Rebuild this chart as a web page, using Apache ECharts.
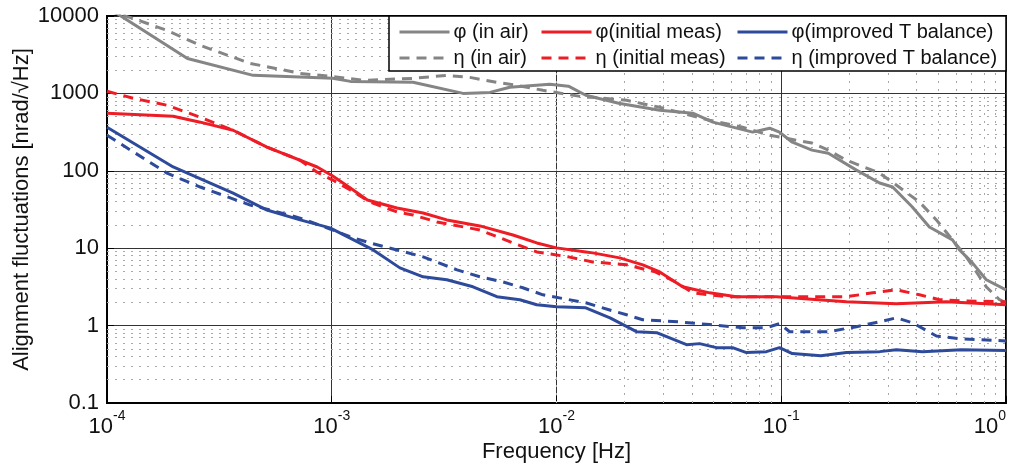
<!DOCTYPE html>
<html>
<head>
<meta charset="utf-8">
<script src="https://cdn.jsdelivr.net/npm/echarts@6/dist/echarts.min.js"></script>
<style>
html,body{margin:0;padding:0;background:#fff;}
#chart{width:1014px;height:467px;}
</style>
</head>
<body>
<div id="chart"></div>
<script>
// ---- data (frequency in Hz, amplitude in nrad/√Hz) ----
const phiAirFreq = [1e-4, 2.28e-4, 4.47e-4, 1.01e-3, 1.21e-3, 2.30e-3, 3.84e-3, 5.06e-3, 6.2e-3, 9.33e-3, 1.13e-2, 1.35e-2, 1.89e-2, 2.88e-2, 4.04e-2, 4.96e-2, 7.46e-2, 8.88e-2, 9.82e-2, 0.112, 0.137, 0.162, 0.216, 0.274, 0.313, 0.383, 0.456, 0.578, 0.621, 0.709, 0.817, 1];
const phiAirVal  = [13000, 2830, 1710, 1565, 1430, 1390, 1000, 1030, 1200, 1310, 1240, 946, 745, 606, 555, 425, 316, 355, 316, 234, 185, 169, 102, 69.5, 61.7, 34.0, 18.8, 12.8, 9.5, 6.46, 3.91, 2.90];

const etaAirFreq = [1e-4, 1.31e-4, 1.85e-4, 2.60e-4, 4.34e-4, 7.23e-4, 1.09e-3, 1.38e-3, 2.30e-3, 3.25e-3, 4.12e-3, 5.43e-3, 6.67e-3, 8.7e-3, 1.35e-2, 1.45e-2, 2.05e-2, 2.88e-2, 4.80e-2, 6.73e-2, 8.88e-2, 0.137, 0.162, 0.195, 0.274, 0.303, 0.412, 0.490, 0.578, 0.666, 0.817, 0.936, 1];
const etaAirVal  = [11800, 9290, 6500, 4170, 2440, 1815, 1610, 1475, 1565, 1710, 1610, 1390, 1270, 1096, 890, 890, 815, 662, 450, 366, 288, 228, 185, 137, 93.3, 75.9, 39.5, 23.2, 12.8, 7.73, 3.17, 2.16, 1.97];

const phiInitFreq = [1e-4, 1.97e-4, 2.60e-4, 3.64e-4, 5.15e-4, 8.61e-4, 1.01e-3, 1.21e-3, 1.44e-3, 1.95e-3, 2.55e-3, 3.25e-3, 4.56e-3, 6.4e-3, 8.17e-3, 1.0e-2, 1.35e-2, 1.45e-2, 1.91e-2, 2.42e-2, 2.88e-2, 3.64e-2, 4.80e-2, 6.32e-2, 9.53e-2, 0.195, 0.325, 0.543, 1];
const phiInitVal  = [555, 507, 425, 334, 202, 112, 85.5, 59.8, 41.9, 33.0, 28.5, 23.2, 19.4, 14.8, 11.7, 10.1, 8.95, 8.7, 7.5, 6.1, 4.94, 3.17, 2.65, 2.36, 2.36, 2.03, 1.91, 2.03, 1.86];

const etaInitFreq = [1e-4, 1.31e-4, 1.85e-4, 2.60e-4, 3.64e-4, 5.15e-4, 7.23e-4, 8.61e-4, 1.01e-3, 1.21e-3, 1.48e-3, 1.95e-3, 2.30e-3, 2.94e-3, 4.56e-3, 6.4e-3, 8.17e-3, 1.13e-2, 1.45e-2, 2.05e-2, 2.75e-2, 3.38e-2, 4.04e-2, 5.71e-2, 0.112, 0.195, 0.255, 0.325, 0.412, 0.506, 0.634, 1];
const etaInitVal  = [1065, 865, 703, 492, 334, 202, 137, 96, 75.9, 56.4, 39.5, 29.4, 26.9, 21.8, 17.2, 11.7, 8.95, 7.73, 6.65, 6.1, 4.94, 3.67, 2.65, 2.36, 2.36, 2.36, 2.65, 2.90, 2.50, 2.16, 2.09, 2.03];

const phiImpFreq = [1e-4, 1.97e-4, 3.64e-4, 5.15e-4, 7.23e-4, 9.82e-4, 1.53e-3, 2.01e-3, 2.55e-3, 3.25e-3, 4.25e-3, 5.43e-3, 6.87e-3, 8.17e-3, 1.0e-2, 1.35e-2, 1.73e-2, 2.27e-2, 2.79e-2, 3.79e-2, 4.33e-2, 5.15e-2, 6.07e-2, 7.0e-2, 8.59e-2, 9.82e-2, 0.112, 0.150, 0.195, 0.274, 0.325, 0.425, 0.634, 1];
const phiImpVal  = [366, 112, 51.6, 31.1, 23.2, 18.3, 9.5, 5.57, 4.27, 3.91, 3.17, 2.36, 2.16, 1.86, 1.75, 1.70, 1.26, 0.834, 0.81, 0.567, 0.585, 0.519, 0.519, 0.448, 0.461, 0.519, 0.435, 0.409, 0.448, 0.461, 0.489, 0.461, 0.489, 0.475];

const etaImpFreq = [1e-4, 1.85e-4, 2.60e-4, 4.34e-4, 5.15e-4, 7.23e-4, 1.01e-3, 1.21e-3, 1.48e-3, 1.95e-3, 2.55e-3, 3.61e-3, 4.56e-3, 5.77e-3, 7.08e-3, 8.7e-3, 1.35e-2, 1.71e-2, 2.05e-2, 2.42e-2, 3.47e-2, 4.80e-2, 6.73e-2, 8.59e-2, 9.82e-2, 0.109, 0.162, 0.216, 0.274, 0.325, 0.383, 0.490, 0.634, 1];
const etaImpVal  = [288, 93.3, 61.7, 36, 32, 24.5, 17.2, 14.0, 11.7, 9.5, 7.73, 5.25, 4.27, 3.67, 3.08, 2.50, 1.97, 1.60, 1.38, 1.19, 1.12, 1.03, 0.94, 0.94, 1.06, 0.834, 0.834, 0.968, 1.12, 1.26, 1.09, 0.734, 0.672, 0.634];

const seriesNames = ['φ (in air)', 'η (in air)', 'φ(initial meas)', 'η (initial meas)', 'φ(improved T balance)', 'η (improved T balance)'];
const xMajorExp = [-4, -3, -2, -1, 0];
const yTickLabels = ['0.1', '1', '10', '100', '1000', '10000'];
const minorMults = [2, 3, 4, 5, 6, 7, 8, 9];

// ---- build ----
const FONT = 'Liberation Sans, Arial, Helvetica, sans-serif';
const GRAY = '#858585', RED = '#ee1c25', BLUE = '#2e4b9b';

function pairs(f, v) { return f.map((x, i) => [x, v[i]]); }

const xMinor = [], yMinor = [];
for (let k = -4; k <= -1; k++) minorMults.forEach(m => xMinor.push(Number((m * Math.pow(10, k)).toPrecision(3))));
for (let k = -1; k <= 3; k++) minorMults.forEach(m => yMinor.push(Number((m * Math.pow(10, k)).toPrecision(3))));

function mkSeries(name, f, v, color, dashed) {
  return {
    name: name, type: 'line', data: pairs(f, v), symbol: 'none', showSymbol: false,
    smooth: false, z: 5, clip: true,
    lineStyle: { color: color, width: 3, type: dashed ? [10, 7] : 'solid', cap: 'butt', join: 'round' },
    itemStyle: { color: color },
    emphasis: { disabled: true }, animation: false
  };
}

const chart = echarts.init(document.getElementById('chart'), null, { renderer: 'canvas' });

const legendCommon = {
  orient: 'vertical', top: 22, padding: 0, itemWidth: 50, itemHeight: 14, itemGap: 6, z: 20,
  selectedMode: false,
  itemStyle: { opacity: 0 },
  lineStyle: { opacity: 1, width: 3 },
  textStyle: { fontSize: 20, lineHeight: 20, color: '#111', fontFamily: FONT, padding: [0, 0, 0, -1] }
};

const option = {
  animation: false,
  backgroundColor: '#fff',
  textStyle: { fontFamily: FONT },
  grid: { left: 107, right: 8, top: 16, bottom: 64, containLabel: false, outerBoundsMode: 'none',
          show: true, borderColor: '#000', borderWidth: 2, backgroundColor: '#fff' },
  legend: [
    Object.assign({}, legendCommon, { left: 398, data: [seriesNames[0], seriesNames[1]] }),
    Object.assign({}, legendCommon, { left: 540, data: [seriesNames[2], seriesNames[3]] }),
    Object.assign({}, legendCommon, { left: 736, data: [seriesNames[4], seriesNames[5]] })
  ],
  graphic: { elements: [{
    type: 'rect', z: 15, silent: true,
    shape: { x: 389, y: 16, width: 617, height: 55 },
    style: { fill: '#fff', stroke: '#000', lineWidth: 1.5 }
  }] },
  xAxis: {
    type: 'log', logBase: 10, min: 1e-4, max: 1, splitNumber: 4,
    name: 'Frequency [Hz]', nameLocation: 'middle', nameGap: 38, nameMoveOverlap: false,
    nameTextStyle: { fontSize: 22, color: '#111', fontFamily: FONT },
    axisLine: { show: true, onZero: false, lineStyle: { color: '#000', width: 2 } },
    axisTick: { show: true, inside: true, length: 7, lineStyle: { color: '#000', width: 1 } },
    axisLabel: {
      margin: 6, color: '#111', fontFamily: FONT, alignMaxLabel: 'right',
      formatter: function (v) {
        const e = Math.round(Math.log10(v));
        if (xMajorExp.indexOf(e) < 0) return '';
        return '{b|10}{s|' + e + '}';
      },
      rich: {
        b: { fontSize: 22, fontFamily: FONT, color: '#111', verticalAlign: 'bottom', padding: [7, 0, 0, 0] },
        s: { fontSize: 14, fontFamily: FONT, color: '#111', verticalAlign: 'top' }
      }
    },
    splitLine: { show: true, lineStyle: { color: '#333', width: 1 } }
  },
  yAxis: {
    type: 'log', logBase: 10, min: 0.1, max: 10000, splitNumber: 5,
    name: 'Alignment fluctuations [nrad/√Hz]', nameLocation: 'middle', nameGap: 74, nameRotate: 90,
    nameMoveOverlap: false,
    nameTextStyle: { fontSize: 22, color: '#111', fontFamily: FONT },
    axisLine: { show: true, onZero: false, lineStyle: { color: '#000', width: 2 } },
    axisTick: { show: true, inside: true, length: 7, lineStyle: { color: '#000', width: 1 } },
    axisLabel: {
      margin: 8, fontSize: 22, color: '#111', fontFamily: FONT,
      formatter: function (v) {
        const e = Math.round(Math.log10(v));
        const idx = e + 1;
        return (idx >= 0 && idx < yTickLabels.length) ? yTickLabels[idx] : '';
      }
    },
    splitLine: { show: true, lineStyle: { color: '#333', width: 1 } }
  },
  series: [
    {
      name: 'minor-grid', type: 'line', data: [[1e-4, 0.1]], symbol: 'none', z: 1,
      lineStyle: { width: 0, opacity: 0 }, silent: true, animation: false,
      markLine: {
        silent: true, symbol: ['none', 'none'], label: { show: false }, animation: false,
        lineStyle: { type: [2, 6], color: '#a8a8a8', width: 1 },
        emphasis: { disabled: true },
        data: xMinor.map(v => ({ xAxis: v })).concat(yMinor.map(v => ({ yAxis: v })))
      }
    },
    mkSeries(seriesNames[0], phiAirFreq, phiAirVal, GRAY, false),
    mkSeries(seriesNames[1], etaAirFreq, etaAirVal, GRAY, true),
    mkSeries(seriesNames[2], phiInitFreq, phiInitVal, RED, false),
    mkSeries(seriesNames[3], etaInitFreq, etaInitVal, RED, true),
    mkSeries(seriesNames[4], phiImpFreq, phiImpVal, BLUE, false),
    mkSeries(seriesNames[5], etaImpFreq, etaImpVal, BLUE, true)
  ]
};
chart.setOption(option);
</script>
</body>
</html>
